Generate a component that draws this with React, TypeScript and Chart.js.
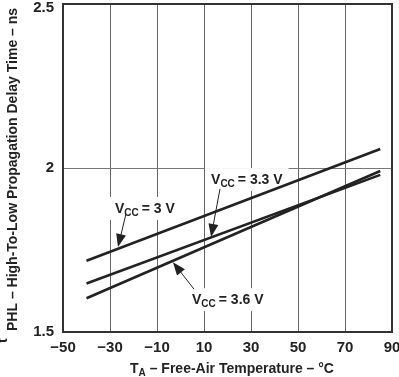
import React, { useEffect, useRef } from "react";
import { Chart, registerables } from "chart.js";

Chart.register(...registerables);

// Data
const temps = [-40, 85];
const vcc3 = [1.717, 2.058];
const vcc33 = [1.648, 1.979];
const vcc36 = [1.603, 1.991];
const xTicks = [-50, -30, -10, 10, 30, 50, 70, 90];
const yTicks = [1.5, 2, 2.5];

// Annotations (data coordinates)
const labelTexts = ["= 3 V", "= 3.3 V", "= 3.6 V"];
const labelPos = [[-27.9, 1.863], [13, 1.951], [4.9, 1.585]];
const arrowFrom = [[-23.2, 1.86], [16.8, 1.936], [5.7, 1.631]];
const arrowTo = [[-26.6, 1.759], [13, 1.79], [-3.2, 1.713]];

const FONT = "'Liberation Sans', Arial, sans-serif";
const INK = "#222";

const fmt = (v: number) => (v < 0 ? "\u2212" + Math.abs(v) : String(v));

const annotPlugin = {
  id: "annot",
  beforeDatasetsDraw(chart: any) {
    const { ctx, chartArea, scales } = chart;
    const xs = scales.x;
    const ys = scales.y;
    ctx.save();
    // frame
    ctx.strokeStyle = "#333";
    ctx.lineWidth = 2;
    ctx.strokeRect(chartArea.left, chartArea.top, chartArea.right - chartArea.left, chartArea.bottom - chartArea.top);

    // labels
    for (let i = 0; i < labelTexts.length; i++) {
      const px = xs.getPixelForValue(labelPos[i][0]);
      const py = ys.getPixelForValue(labelPos[i][1]);
      ctx.font = `bold 14px ${FONT}`;
      const wV = ctx.measureText("V").width;
      ctx.font = `bold 10px ${FONT}`;
      const wCC = ctx.measureText("CC").width;
      ctx.font = `bold 14px ${FONT}`;
      const wR = ctx.measureText(labelTexts[i]).width;
      const total = wV + wCC + 3 + wR;
      ctx.fillStyle = "#fff";
      ctx.fillRect(px - 6, py - 16, total + 12, 23);
      ctx.fillStyle = INK;
      ctx.textBaseline = "alphabetic";
      ctx.textAlign = "left";
      ctx.font = `bold 14px ${FONT}`;
      ctx.fillText("V", px, py);
      ctx.font = `bold 10px ${FONT}`;
      ctx.fillText("CC", px + wV, py + 3);
      ctx.font = `bold 14px ${FONT}`;
      ctx.fillText(labelTexts[i], px + wV + wCC + 3, py);
    }

    // arrows
    for (let i = 0; i < arrowFrom.length; i++) {
      const x0 = xs.getPixelForValue(arrowFrom[i][0]);
      const y0 = ys.getPixelForValue(arrowFrom[i][1]);
      const x1 = xs.getPixelForValue(arrowTo[i][0]);
      const y1 = ys.getPixelForValue(arrowTo[i][1]);
      const ang = Math.atan2(y1 - y0, x1 - x0);
      const L = 13;
      const W = 5;
      ctx.strokeStyle = INK;
      ctx.lineWidth = 1;
      ctx.beginPath();
      ctx.moveTo(x0, y0);
      ctx.lineTo(x1 - Math.cos(ang) * L * 0.8, y1 - Math.sin(ang) * L * 0.8);
      ctx.stroke();
      const bx = x1 - Math.cos(ang) * L;
      const by = y1 - Math.sin(ang) * L;
      ctx.fillStyle = INK;
      ctx.beginPath();
      ctx.moveTo(x1, y1);
      ctx.lineTo(bx + Math.sin(ang) * W, by - Math.cos(ang) * W);
      ctx.lineTo(bx - Math.sin(ang) * W, by + Math.cos(ang) * W);
      ctx.closePath();
      ctx.fill();
    }

    // y tick labels
    ctx.fillStyle = INK;
    ctx.font = `bold 15px ${FONT}`;
    ctx.textAlign = "right";
    ctx.textBaseline = "middle";
    for (const v of yTicks) {
      const p = ys.getPixelForValue(v);
      ctx.fillText(String(v), chartArea.left - 9, Math.max(p, 8));
    }

    // x axis title
    ctx.textAlign = "left";
    ctx.textBaseline = "alphabetic";
    ctx.font = `bold 14px ${FONT}`;
    const tx = 130;
    const tyb = 373;
    ctx.fillText("T", tx, tyb);
    const wT = ctx.measureText("T").width;
    ctx.font = `bold 10px ${FONT}`;
    ctx.fillText("A", tx + wT, tyb + 3);
    const wA = ctx.measureText("A").width;
    ctx.font = `bold 14px ${FONT}`;
    ctx.fillText(" \u2013 Free-Air Temperature \u2013 \u00B0C", tx + wT + wA, tyb);

    // y axis title
    ctx.save();
    ctx.rotate(-Math.PI / 2);
    ctx.font = `bold 14px ${FONT}`;
    ctx.fillText("t", -343, 7);
    ctx.fillText("PHL \u2013 High-To-Low Propagation Delay Time \u2013 ns", -331, 17);
    ctx.restore();

    ctx.restore();
  },
};

export default function App() {
  const ref = useRef<HTMLCanvasElement | null>(null);
  useEffect(() => {
    if (!ref.current) return;
    const series = [vcc3, vcc33, vcc36];
    const chart = new Chart(ref.current, {
      type: "scatter",
      data: {
        datasets: series.map((s) => ({
          data: temps.map((t, i) => ({ x: t, y: s[i] })),
          showLine: true,
          borderColor: INK,
          borderWidth: 2.6,
          pointRadius: 0,
          fill: false,
        })),
      },
      options: {
        animation: false,
        responsive: false,
        maintainAspectRatio: false,
        layout: { padding: { top: 4, right: 7, left: 0, bottom: 0 } },
        plugins: { legend: { display: false }, tooltip: { enabled: false } },
        scales: {
          x: {
            type: "linear",
            min: -50,
            max: 90,
            afterBuildTicks: (s: any) => {
              s.ticks = xTicks.map((v) => ({ value: v }));
            },
            ticks: {
              callback: (v: any) => fmt(Number(v)),
              font: { family: FONT, size: 15, weight: "bold" },
              color: INK,
              padding: 7,
              maxRotation: 0,
              autoSkip: false,
            },
            grid: { color: "#666", lineWidth: 1, drawTicks: false },
            border: { display: false },
            afterFit: (s: any) => {
              s.height = 45;
              s.paddingLeft = 0;
              s.paddingRight = 0;
            },
          },
          y: {
            type: "linear",
            min: 1.5,
            max: 2.5,
            afterBuildTicks: (s: any) => {
              s.ticks = yTicks.map((v) => ({ value: v }));
            },
            ticks: { display: false },
            grid: { color: "#777", lineWidth: 1, drawTicks: false },
            border: { display: false },
            afterFit: (s: any) => {
              s.width = 63;
              s.paddingTop = 0;
              s.paddingBottom = 0;
            },
          },
        },
      },
      plugins: [annotPlugin],
    } as any);
    return () => chart.destroy();
  }, []);
  return (
    <div style={{ position: "fixed", left: 0, top: 0, width: 399, height: 377, background: "#fff" }}>
      <canvas ref={ref} width={399} height={377} />
    </div>
  );
}
